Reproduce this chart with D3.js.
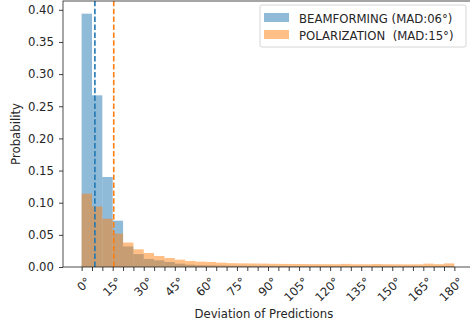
<!DOCTYPE html>
<html>
<head>
<meta charset="utf-8">
<script src="https://cdn.jsdelivr.net/npm/d3@7"></script>
<style>
  html, body { margin: 0; padding: 0; background: #fff; }
  svg { display: block; font-family: "DejaVu Sans", sans-serif; }
  text { fill: #262626; }
</style>
</head>
<body>
<svg id="chart" width="470" height="328"></svg>
<script>
// Histogram bins: 5° wide, 0°–180°
const binWidth = 5;
const binStarts = d3.range(0, 180, binWidth);

// Probability per bin
const beamforming = [
  0.394, 0.267, 0.140, 0.072, 0.032, 0.020, 0.0125, 0.0104, 0.0078, 0.0052,
  0.0036, 0.0028, 0.0025, 0.0022, 0.0020, 0.0019, 0.0018, 0.0017, 0.0016, 0.0016,
  0.0015, 0.0015, 0.0014, 0.0014, 0.0014, 0.0013, 0.0013, 0.0013, 0.0013, 0.0012,
  0.0012, 0.0012, 0.0013, 0.0013, 0.0014, 0.0015
];
const polarization = [
  0.114, 0.094, 0.075, 0.052, 0.038, 0.0275, 0.0218, 0.0171, 0.0140, 0.0114,
  0.0093, 0.0083, 0.0078, 0.0067, 0.0060, 0.0057, 0.0055, 0.0053, 0.0050, 0.0048,
  0.0047, 0.0046, 0.0045, 0.0044, 0.0044, 0.0048, 0.0043, 0.0042, 0.0046, 0.0043,
  0.0042, 0.0041, 0.0042, 0.0052, 0.0044, 0.0056
];

// Mean absolute deviation markers (degrees)
const madBeamforming = 6.4;
const madPolarization = 15.5;

const seriesNames = ["BEAMFORMING (MAD:06°)", "POLARIZATION  (MAD:15°)"];
const seriesColors = ["#1f77b4", "#ff7f0e"];

const xTickValues = d3.range(0, 181, 5);
const xLabelValues = d3.range(0, 181, 15);
const yTickValues = d3.range(0, 0.401, 0.05);

const fontSize = 11.7;

const svg = d3.select("#chart");
const margin = { left: 63, top: 1, right: -3, bottom: 61 };
const W = 470, H = 328;
const plotW = W - margin.left - margin.right;
const plotH = H - margin.top - margin.bottom;

const x = d3.scaleLinear().domain([-9, 189]).range([margin.left, margin.left + plotW]);
const yMax = d3.max(beamforming) * 1.05;
const y = d3.scaleLinear().domain([0, yMax]).range([margin.top + plotH, margin.top]);

const g = svg.append("g");

function drawBars(values, color) {
  g.append("g").selectAll("rect")
    .data(values.map((v, i) => ({ x0: binStarts[i], v })))
    .join("rect")
    .attr("x", d => x(d.x0))
    .attr("width", d => x(d.x0 + binWidth) - x(d.x0))
    .attr("y", d => y(d.v))
    .attr("height", d => y(0) - y(d.v))
    .attr("fill", color)
    .attr("fill-opacity", 0.5);
}
drawBars(beamforming, seriesColors[0]);
drawBars(polarization, seriesColors[1]);

// Dashed MAD lines
[[madBeamforming, seriesColors[0]], [madPolarization, seriesColors[1]]].forEach(([m, c]) => {
  g.append("line")
    .attr("x1", x(m)).attr("x2", x(m))
    .attr("y1", y(0)).attr("y2", y(yMax))
    .attr("stroke", c).attr("stroke-width", 1.6)
    .attr("stroke-dasharray", "5.5,2.4");
});

// Spines
g.append("rect")
  .attr("x", margin.left).attr("y", margin.top)
  .attr("width", plotW).attr("height", plotH)
  .attr("fill", "none").attr("stroke", "#222").attr("stroke-width", 0.8);

// X axis
const xAxis = d3.axisBottom(x)
  .tickValues(xTickValues)
  .tickSize(4)
  .tickFormat("");
const xg = svg.append("g").attr("transform", `translate(0,${y(0)})`).call(xAxis);
xg.select(".domain").remove();
xg.selectAll("line").attr("stroke", "#111").attr("stroke-width", 0.8);

svg.append("g").selectAll("text")
  .data(xLabelValues)
  .join("text")
  .attr("transform", d => `translate(${x(d) + 4},${y(0) + 9.5}) rotate(-45)`)
  .attr("text-anchor", "end")
  .attr("dy", "0.7em")
  .attr("font-size", fontSize)
  .text(d => d + "°");

// Y axis
const yAxis = d3.axisLeft(y)
  .tickValues(yTickValues)
  .tickSize(4)
  .tickPadding(5)
  .tickFormat(d3.format(".2f"));
const yg = svg.append("g").attr("transform", `translate(${margin.left},0)`).call(yAxis);
yg.select(".domain").remove();
yg.selectAll("line").attr("stroke", "#111").attr("stroke-width", 0.8);
yg.selectAll("text").attr("font-size", fontSize).attr("font-family", "DejaVu Sans").attr("fill", "#262626");

// Axis titles
svg.append("text")
  .attr("x", x(88)).attr("y", 318)
  .attr("text-anchor", "middle")
  .attr("font-size", fontSize)
  .text("Deviation of Predictions");
svg.append("text")
  .attr("transform", `translate(20,${margin.top + plotH / 2}) rotate(-90)`)
  .attr("text-anchor", "middle")
  .attr("font-size", fontSize)
  .text("Probability");

// Legend
const lg = svg.append("g").attr("transform", "translate(260,5)");
lg.append("rect")
  .attr("x", 0).attr("y", 0).attr("width", 206).attr("height", 42)
  .attr("rx", 2).attr("fill", "#fff").attr("fill-opacity", 0.8)
  .attr("stroke", "#ccc").attr("stroke-width", 0.8);
seriesNames.forEach((name, i) => {
  lg.append("rect")
    .attr("x", 4).attr("y", 8 + i * 17).attr("width", 25).attr("height", 9)
    .attr("fill", seriesColors[i]).attr("fill-opacity", 0.5);
  lg.append("text")
    .attr("x", 39).attr("y", 17.5 + i * 17)
    .attr("font-size", fontSize)
    .attr("xml:space", "preserve")
    .style("white-space", "pre")
    .text(name);
});
</script>
</body>
</html>
